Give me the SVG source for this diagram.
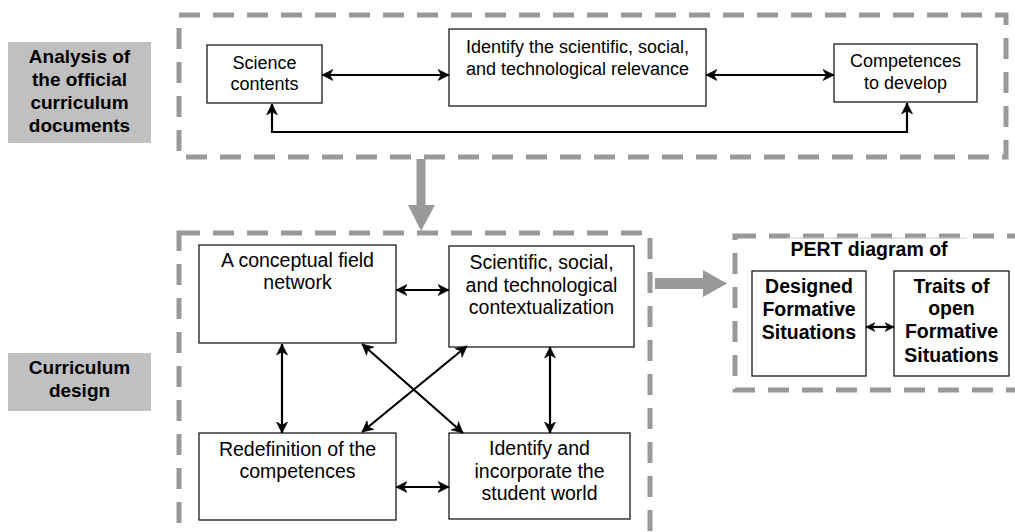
<svg xmlns="http://www.w3.org/2000/svg" width="1015" height="532" viewBox="0 0 1015 532">
  <style>
    .bg { fill: #ffffff; }
    .label-box { fill: #c0c0c0; stroke: none; }
    .label { font-family: "Liberation Sans", Arial, sans-serif; font-weight: bold; font-size: 19px; fill: #000; text-anchor: middle; }
    .group { fill: none; stroke: #999999; stroke-width: 5; stroke-dasharray: 21 13; }
    .node { fill: #ffffff; stroke: #1a1a1a; stroke-width: 1.3; }
    .t18 { font-family: "Liberation Sans", Arial, sans-serif; font-size: 18px; fill: #000; text-anchor: middle; }
    .t19 { font-family: "Liberation Sans", Arial, sans-serif; font-size: 19.5px; fill: #000; text-anchor: middle; }
    .tb { font-family: "Liberation Sans", Arial, sans-serif; font-weight: bold; font-size: 19.5px; fill: #000; text-anchor: middle; }
    .link { fill: none; stroke: #000; stroke-width: 2.2; marker-start: url(#head); marker-end: url(#head); }
    .link-sm { fill: none; stroke: #000; stroke-width: 2.2; marker-start: url(#head-sm); marker-end: url(#head-sm); }
    .flow { fill: #999999; stroke: none; }
  </style>
  <defs>
    <marker id="head" markerUnits="userSpaceOnUse" viewBox="0 0 10 10" markerWidth="11" markerHeight="13" refX="10" refY="5" orient="auto-start-reverse">
      <path d="M0,0 L10,5 L0,10 L3,5 Z" fill="#000" stroke="#000" stroke-width="0.6" stroke-linejoin="round"/>
    </marker>
    <marker id="head-sm" markerUnits="userSpaceOnUse" viewBox="0 0 10 10" markerWidth="9" markerHeight="11" refX="10" refY="5" orient="auto-start-reverse">
      <path d="M0,0 L10,5 L0,10 L3,5 Z" fill="#000" stroke="#000" stroke-width="0.6" stroke-linejoin="round"/>
    </marker>
  </defs>

  <rect class="bg" x="0" y="0" width="1015" height="532"/>

  <!-- Stage labels -->
  <g id="label-analysis">
    <rect class="label-box" x="8" y="42" width="143" height="101"/>
    <text class="label" x="79.5" y="63">Analysis of</text>
    <text class="label" x="79.5" y="86">the official</text>
    <text class="label" x="79.5" y="109">curriculum</text>
    <text class="label" x="79.5" y="132">documents</text>
  </g>
  <g id="label-design">
    <rect class="label-box" x="8" y="353" width="143" height="58"/>
    <text class="label" x="79.5" y="374">Curriculum</text>
    <text class="label" x="79.5" y="397">design</text>
  </g>

  <!-- Dashed stage frames -->
  <g id="frame-analysis">
    <rect class="group" x="179" y="15" width="827" height="142"/>
  </g>
  <g id="frame-design">
    <rect class="group" x="179" y="233" width="471" height="320"/>
  </g>
  <g id="frame-pert">
    <rect class="group" x="735" y="236" width="290" height="154"/>
    <line x1="787" y1="238" x2="967" y2="238" stroke="#cccccc" stroke-width="1"/>
    <text class="tb" x="869" y="256">PERT diagram of</text>
  </g>

  <!-- Flow arrows between stages -->
  <g id="flow-arrows">
    <path class="flow" d="M416.5,159 H425.5 V205 H435 L421,231 L408,205 H416.5 Z"/>
    <path class="flow" d="M655,278 H703 V270 L727,283.5 L703,297 V289 H655 Z"/>
  </g>

  <!-- Analysis nodes -->
  <g id="node-science-contents">
    <rect class="node" x="207" y="45" width="115" height="58"/>
    <text class="t18" x="264.5" y="69">Science</text>
    <text class="t18" x="264.5" y="90">contents</text>
  </g>
  <g id="node-relevance">
    <rect class="node" x="449" y="29" width="257" height="77"/>
    <text class="t18" x="577.5" y="53">Identify the scientific, social,</text>
    <text class="t18" x="577.5" y="75">and technological relevance</text>
  </g>
  <g id="node-competences">
    <rect class="node" x="834" y="44" width="143" height="58"/>
    <text class="t18" x="905.5" y="67">Competences</text>
    <text class="t18" x="905.5" y="89">to develop</text>
  </g>

  <!-- Design nodes -->
  <g id="node-conceptual-field">
    <rect class="node" x="199" y="245" width="197" height="98"/>
    <text class="t19" x="297.5" y="267">A conceptual field</text>
    <text class="t19" x="297.5" y="289">network</text>
  </g>
  <g id="node-contextualization">
    <rect class="node" x="449" y="246" width="185" height="101"/>
    <text class="t19" x="541.5" y="269">Scientific, social,</text>
    <text class="t19" x="541.5" y="292">and technological</text>
    <text class="t19" x="541.5" y="314">contextualization</text>
  </g>
  <g id="node-redefinition">
    <rect class="node" x="199" y="433" width="197" height="87"/>
    <text class="t19" x="297.5" y="456">Redefinition of the</text>
    <text class="t19" x="297.5" y="478">competences</text>
  </g>
  <g id="node-student-world">
    <rect class="node" x="449" y="433" width="181" height="86"/>
    <text class="t19" x="539.5" y="455">Identify and</text>
    <text class="t19" x="539.5" y="478">incorporate the</text>
    <text class="t19" x="539.5" y="500">student world</text>
  </g>

  <!-- PERT nodes -->
  <g id="node-designed">
    <rect class="node" x="752" y="271" width="114" height="105"/>
    <text class="tb" x="809" y="293">Designed</text>
    <text class="tb" x="809" y="316">Formative</text>
    <text class="tb" x="809" y="339">Situations</text>
  </g>
  <g id="node-traits">
    <rect class="node" x="894" y="271" width="115" height="105"/>
    <text class="tb" x="951.5" y="293">Traits of</text>
    <text class="tb" x="951.5" y="315">open</text>
    <text class="tb" x="951.5" y="338">Formative</text>
    <text class="tb" x="951.5" y="362">Situations</text>
  </g>

  <!-- Connectors -->
  <g id="connectors">
    <path class="link" d="M322,75 H449"/>
    <path class="link" d="M706,75 H834"/>
    <path class="link" d="M272,104 V132 H907 V103"/>
    <path class="link" d="M396,290 H449"/>
    <path class="link" d="M396,487 H449"/>
    <path class="link" d="M282,344 V433"/>
    <path class="link" d="M550,347 V433"/>
    <path class="link" d="M362,344 L463,433"/>
    <path class="link" d="M467,346 L362,432"/>
    <path class="link-sm" d="M866,327 H894"/>
  </g>
</svg>
